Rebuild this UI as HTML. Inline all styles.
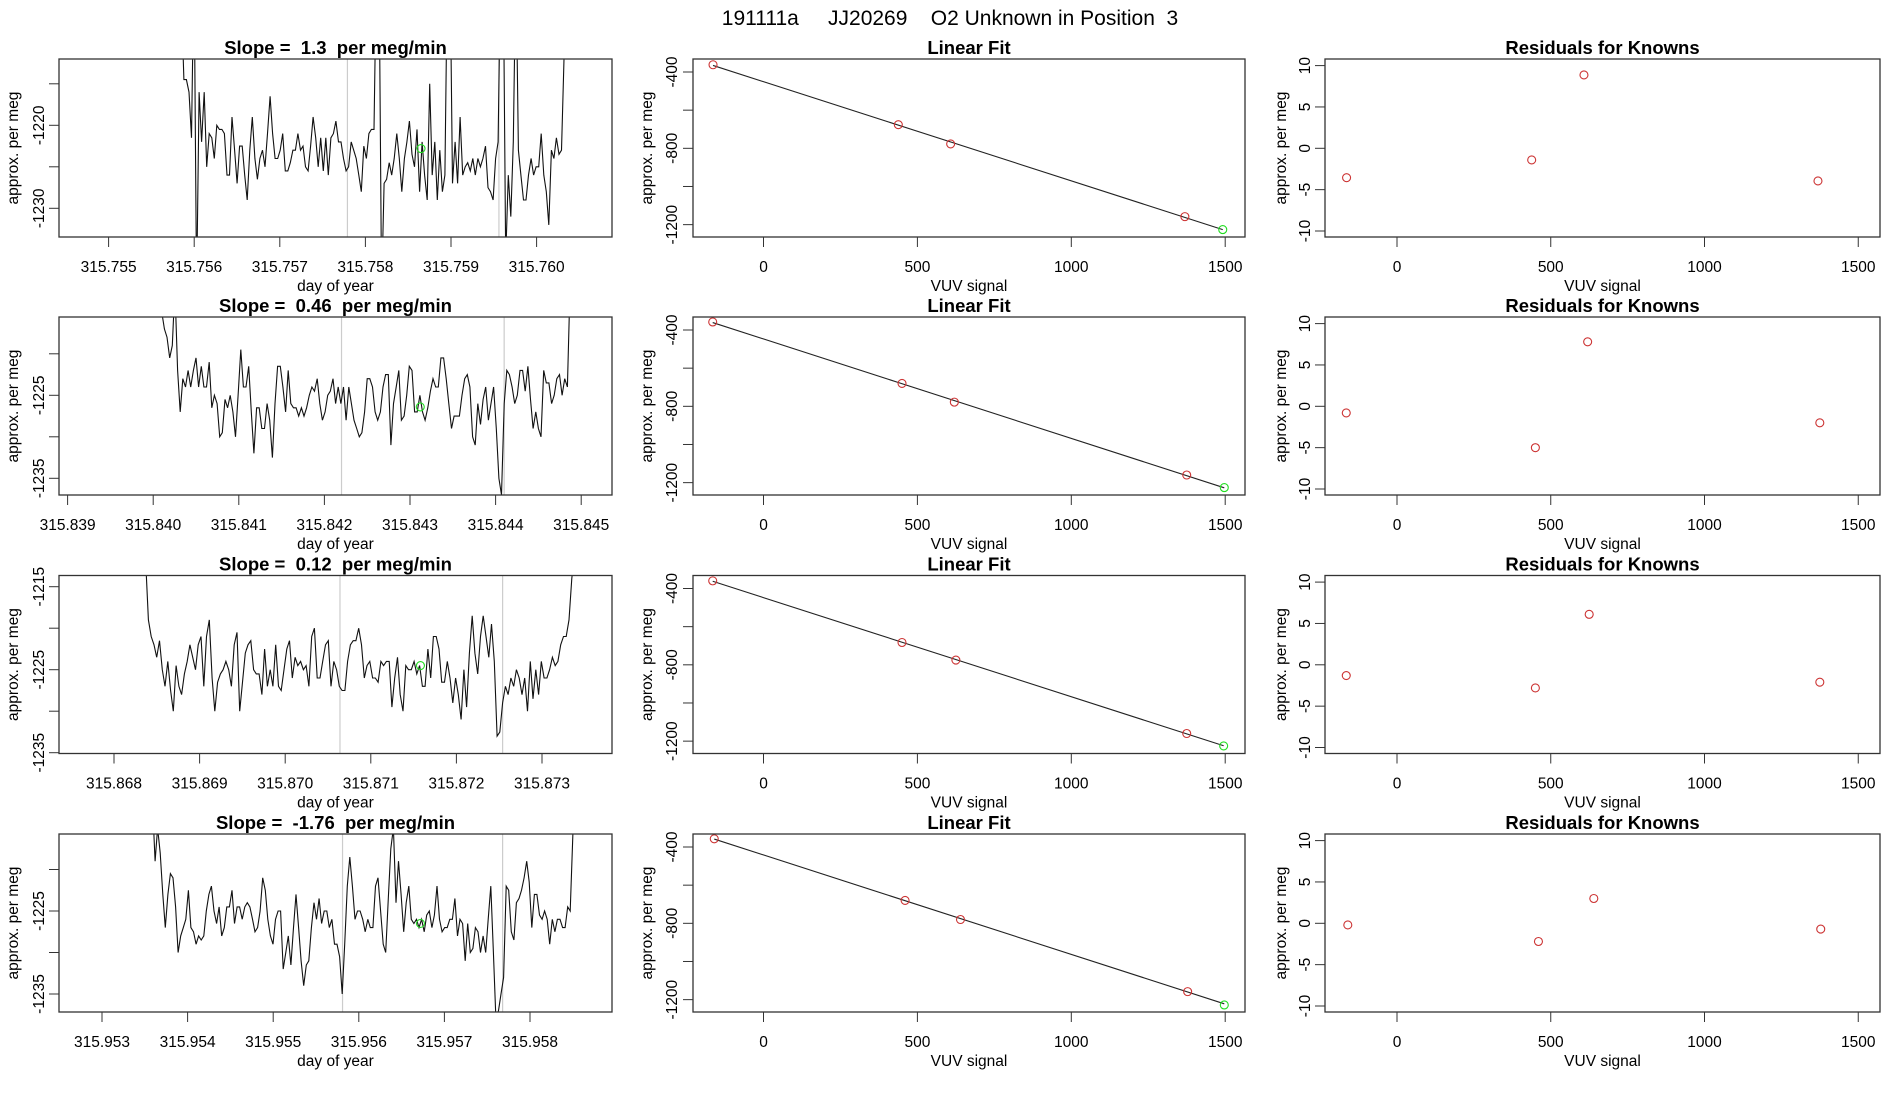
<!DOCTYPE html>
<html><head><meta charset="utf-8">
<style>
html,body{margin:0;padding:0;background:#fff;}
svg{display:block;font-family:"Liberation Sans",sans-serif;}
text{white-space:pre;}
</style></head>
<body>
<svg id="fig" width="1900" height="1100" viewBox="0 0 1900 1100" xmlns="http://www.w3.org/2000/svg">
<text x="950" y="25" text-anchor="middle" font-size="21">191111a     JJ20269    O2 Unknown in Position  3</text>
</svg>
<script>
// ---- time-series data (approx. per meg) ----
const slopes = ["1.3","0.46","0.12","-1.76"];
const tStart = [315.75585, 315.84010, 315.86837, 315.95359];
const tEnd   = [315.76035, 315.84490, 315.87338, 315.95853];
const tTickLabels = [
 ["315.755","315.756","315.757","315.758","315.759","315.760"],
 ["315.839","315.840","315.841","315.842","315.843","315.844","315.845"],
 ["315.868","315.869","315.870","315.871","315.872","315.873"],
 ["315.953","315.954","315.955","315.956","315.957","315.958"]];
const yTickVals = [[-1215,-1220,-1225,-1230],[-1220,-1225,-1230,-1235],[-1215,-1220,-1225,-1230,-1235],[-1220,-1225,-1230,-1235]];
const yTickLabeled = [[-1220,-1230],[-1225,-1235],[-1215,-1225,-1235],[-1225,-1235]];
const grayLines = [[315.75779,315.75956],[315.84220,315.84410],[315.87064,315.87254],[315.95581,315.95768]];
const unkT = [315.75865,315.84312,315.87158,315.95672];
const unkV = [-1222.8,-1226.4,-1224.5,-1226.5];
const series1 = [-1205,-1214.5,-1214.5,-1216,-1221.5,-1200,-1240,-1216,-1222,-1216,-1225,-1221,-1221.5,-1224,-1220,-1220.5,-1220.5,-1221,-1226,-1226,-1219,-1223,-1227,-1222.5,-1222.5,-1226,-1229,-1223,-1219,-1224,-1226.5,-1224,-1223,-1225,-1221,-1216.5,-1221,-1224,-1224,-1223,-1221,-1225.5,-1225.5,-1224.5,-1223,-1223,-1221,-1223,-1222.5,-1225,-1225.5,-1222.5,-1219,-1221.5,-1225,-1221.5,-1225.5,-1221.5,-1226,-1221.5,-1221,-1219.5,-1222,-1222,-1224,-1225.5,-1225,-1222,-1223,-1224,-1226,-1228,-1222.5,-1224,-1221,-1220.5,-1220.5,-1200,-1200,-1240,-1227,-1226.5,-1224.5,-1226,-1224,-1221,-1224,-1228,-1224,-1222,-1219.5,-1223.5,-1225,-1220.5,-1228,-1222,-1226,-1229,-1215,-1226,-1222,-1229,-1223,-1228,-1226,-1200,-1200,-1227,-1222,-1227,-1219,-1226,-1225,-1224.5,-1225.5,-1224,-1226,-1224,-1225,-1224,-1222.5,-1227.5,-1228,-1229,-1224,-1222,-1200,-1200,-1236,-1226,-1231,-1222,-1200,-1223,-1226,-1229,-1229,-1226,-1224,-1226,-1225,-1225,-1221,-1226,-1228,-1232,-1223,-1224,-1221.5,-1223.5,-1223,-1212,-1204];
const series2 = [-1215,-1217,-1218,-1220.5,-1219,-1212,-1222,-1227,-1223,-1224,-1222,-1224,-1222,-1220.5,-1224,-1221.5,-1224,-1224,-1221,-1226.5,-1225,-1226,-1230,-1229.5,-1225.5,-1226.5,-1225,-1227,-1230,-1225,-1219.5,-1224,-1224,-1221.5,-1227,-1232,-1226.5,-1226.5,-1229,-1229,-1226,-1228,-1232.5,-1226,-1221.5,-1221.5,-1224,-1227,-1222,-1226,-1226.5,-1226.5,-1227.5,-1226.5,-1227.5,-1226.5,-1225,-1224,-1224.5,-1223,-1226,-1228,-1227,-1225,-1224.5,-1223,-1226,-1224,-1226,-1224,-1228,-1224,-1226,-1228,-1229,-1230,-1229.5,-1227,-1223,-1223,-1224,-1227,-1228,-1227,-1224,-1222.5,-1222.5,-1231,-1226,-1224,-1222,-1228,-1227.5,-1225,-1221.5,-1222,-1227,-1227,-1225,-1227,-1228,-1226.5,-1224.5,-1223,-1224,-1224,-1220.5,-1220.5,-1223,-1226,-1229,-1227.5,-1227.5,-1227.5,-1225,-1223,-1222.5,-1224,-1230,-1231,-1226,-1228.5,-1225.5,-1224,-1228,-1226,-1224,-1229,-1235,-1237,-1226,-1222,-1222.5,-1224,-1226,-1225,-1222,-1222,-1224.5,-1221.5,-1225.5,-1229,-1227,-1229,-1230,-1222,-1223.5,-1223.5,-1226,-1225,-1223,-1222.5,-1225,-1223,-1224,-1212,-1205];
const series3 = [-1212,-1219,-1221,-1222,-1223.5,-1221.5,-1225,-1227,-1224,-1227.5,-1230,-1224.5,-1227,-1228,-1225.5,-1224,-1222,-1223.5,-1225,-1222,-1221,-1227,-1221,-1219,-1226,-1230,-1226.5,-1225.5,-1225,-1224,-1225,-1227,-1222,-1220.5,-1230,-1226.5,-1223,-1222,-1221.5,-1225,-1225.5,-1225.5,-1228,-1222.5,-1227,-1225,-1227,-1222,-1227,-1227.5,-1225,-1222.5,-1221.5,-1226,-1223.5,-1224.5,-1224,-1225,-1224.5,-1227,-1221,-1220,-1226,-1226,-1224,-1222,-1221.5,-1227,-1224,-1225,-1227,-1227.5,-1227.5,-1224,-1222,-1221.5,-1221.5,-1220,-1222,-1226,-1224.5,-1224,-1226,-1226,-1226.5,-1224,-1224.5,-1224,-1224,-1229.5,-1226,-1223.5,-1228,-1230,-1224.5,-1225,-1225,-1224,-1225.5,-1224.5,-1227,-1227,-1222.5,-1226,-1221,-1221,-1222.5,-1226.5,-1226.5,-1224,-1226,-1229,-1226,-1228,-1231,-1225,-1229.5,-1223,-1218.5,-1223,-1225.5,-1221,-1218.5,-1221,-1223.5,-1219.5,-1224,-1233,-1232.5,-1229,-1227,-1228,-1226,-1227,-1225,-1226,-1228,-1226,-1230,-1224,-1228.5,-1225,-1228,-1224,-1226,-1226,-1225,-1223.5,-1224.5,-1224,-1222,-1221,-1221,-1219,-1214,-1211];
const series4 = [-1212,-1219,-1215,-1218,-1223,-1227,-1223,-1220.5,-1221,-1224.5,-1230,-1228,-1227,-1226,-1222.5,-1227,-1227.5,-1229,-1228,-1228.5,-1228,-1225,-1223,-1222,-1225,-1226.5,-1224.5,-1228,-1227,-1224.5,-1224.5,-1222.5,-1226.5,-1224.5,-1224.5,-1226,-1224.5,-1224,-1224.5,-1226,-1227.5,-1227,-1225,-1221,-1222.5,-1226,-1228,-1229,-1226,-1225,-1225,-1232,-1230,-1228,-1231.5,-1227,-1223,-1227,-1231,-1234,-1231.5,-1231,-1227,-1224,-1226,-1223.5,-1226.5,-1225,-1225,-1227,-1226,-1229,-1229,-1230.5,-1235,-1229,-1222,-1218.5,-1222,-1226,-1225,-1225,-1226,-1227.5,-1226,-1227,-1227,-1222,-1221,-1225,-1229,-1230,-1223.5,-1217.5,-1215,-1224,-1219,-1223,-1227.5,-1224,-1222,-1226,-1226.5,-1226,-1227,-1226,-1227.5,-1225.5,-1225,-1227,-1225.5,-1222,-1226,-1227.5,-1227,-1227,-1226,-1226,-1223.5,-1228,-1226,-1226.5,-1231,-1226.5,-1230,-1229.5,-1227,-1227.5,-1230,-1228,-1230,-1226,-1222,-1230,-1238,-1237,-1235,-1233,-1222,-1222.5,-1227.5,-1228.5,-1224,-1223.5,-1222.5,-1221,-1219,-1221.5,-1227,-1223,-1223,-1225.5,-1226,-1225,-1226,-1229,-1226,-1227.5,-1226,-1226,-1227,-1227,-1224.5,-1225,-1216,-1207];
const allSeries = [series1,series2,series3,series4];

// ---- linear-fit data ----
const knownX = [[-164,438,608,1369],[-165,450,620,1375],[-165,450,625,1375],[-160,460,640,1378]];
const knownY = [[-362,-676,-777,-1158],[-358,-680,-778,-1160],[-360,-683,-775,-1160],[-357,-680,-780,-1158]];
const unkX = [1492,1497,1495,1497];
const unkY = [-1226,-1226,-1225,-1228];
const resid = [[-3.55,-1.41,8.87,-3.95],[-0.8,-5.0,7.8,-2.0],[-1.3,-2.8,6.1,-2.1],[-0.2,-2.2,3.0,-0.7]];
const fitXTicks = [0,500,1000,1500];
const fitYTicks = [-400,-600,-800,-1000,-1200];
const fitYLabeled = [-400,-800,-1200];
const resYTicks = [-10,-5,0,5,10];

const NS="http://www.w3.org/2000/svg";
const svg=document.getElementById('fig');
function mk(tag,attrs,parent){const e=document.createElementNS(NS,tag);for(const k in attrs)e.setAttribute(k,attrs[k]);(parent||svg).appendChild(e);return e;}
function txt(s,attrs,parent){const e=mk('text',attrs,parent);e.textContent=s;return e;}

const rowTop=[59,317,575.5,834], H=178;
const cols=[{l:59,r:612},{l:693,r:1245},{l:1325,r:1880}];
const tRef=[[315.755,108.6],[315.839,67.6],[315.868,114],[315.953,102]];
const yRef=[[-1220,125.3-59],[-1225,395.3-317],[-1215,586.7-575.5],[-1225,911-834]];
const pxPerDay=85.6e3, pxPerUnit=8.3;

for(let r=0;r<4;r++){
 const top=rowTop[r], bot=top+H;
 const c=cols[0];
 const g=mk('g',{});
 
 
 const xs=t=>tRef[r][1]+(t-tRef[r][0])*pxPerDay;
 const ys=v=>top+yRef[r][1]-(v-yRef[r][0])*pxPerUnit;
 const cp=mk('clipPath',{id:'clip'+r},g);
 mk('rect',{x:c.l,y:top,width:c.r-c.l,height:H},cp);
 grayLines[r].forEach(t=>{const l=mk('line',{x1:xs(t),x2:xs(t),y1:top,y2:bot,stroke:'#cccccc','stroke-width':1.2},g);
  
  });
 const s=allSeries[r], n=s.length;
 let d='';
 s.forEach((v,i)=>{const t=tStart[r]+(tEnd[r]-tStart[r])*i/(n-1);d+=(i?'L':'M')+xs(t).toFixed(1)+','+ys(v).toFixed(1);});
 const p=mk('path',{d:d,fill:'none',stroke:'#111','stroke-width':1.1,'clip-path':'url(#clip'+r+')'},g);
 
 
 const uc=mk('circle',{cx:xs(unkT[r]),cy:ys(unkV[r]),r:4,fill:'none',stroke:'#22dd22','stroke-width':1.1},g);
 
 
 const b=mk('rect',{x:c.l,y:top,width:c.r-c.l,height:H,fill:'none',stroke:'#333','stroke-width':1.3},g);
 
 
 tTickLabels[r].forEach(lbl=>{const x=xs(parseFloat(lbl));mk('line',{x1:x,x2:x,y1:bot,y2:bot+10,stroke:'#333'},g);
  const tl=txt(lbl,{x:x,y:bot+35,'text-anchor':'middle','font-size':15.5},g);
  
  });
 yTickVals[r].forEach(v=>{const y=ys(v);mk('line',{x1:c.l,x2:c.l-10,y1:y,y2:y,stroke:'#333'},g);});
 yTickLabeled[r].forEach(v=>{const y=ys(v);const tl=txt(String(v),{x:0,y:0,'text-anchor':'middle','font-size':15.5,transform:`translate(44,${y}) rotate(-90)`},g);
  
  });
 let e=txt(`Slope =  ${slopes[r]}  per meg/min`,{x:(c.l+c.r)/2,y:top-5,'text-anchor':'middle','font-size':18.5,'font-weight':'bold'},g);
 
 
 e=txt('day of year',{x:(c.l+c.r)/2,y:bot+54,'text-anchor':'middle','font-size':15.5},g);
 
 
 e=txt('approx. per meg',{x:0,y:0,'text-anchor':'middle','font-size':15.5,transform:`translate(18,${top+H/2}) rotate(-90)`},g);
 
 

 const c2=cols[1];
 const g2=mk('g',{});
 
 
 const fx=v=>763.5+v*0.3078;
 const fy=v=>top+13+(-400-v)*0.1908;
 const kx=knownX[r], ky=knownY[r];
 const mx=kx.reduce((a,b)=>a+b)/4, my=ky.reduce((a,b)=>a+b)/4;
 let sxy=0,sxx=0;kx.forEach((x,i)=>{sxy+=(x-mx)*(ky[i]-my);sxx+=(x-mx)*(x-mx);});
 const sl=sxy/sxx, ic=my-sl*mx;
 const x0=Math.min(...kx), x1=unkX[r];
 const fl=mk('line',{x1:fx(x0),y1:fy(ic+sl*x0),x2:fx(x1),y2:fy(ic+sl*x1),stroke:'#222','stroke-width':1.1},g2);
 
 
 kx.forEach((x,i)=>{const pt=mk('circle',{cx:fx(x),cy:fy(ky[i]),r:4,fill:'none',stroke:'#cc3333','stroke-width':1.1},g2);
  
  });
 const ug=mk('circle',{cx:fx(unkX[r]),cy:fy(unkY[r]),r:4,fill:'none',stroke:'#22dd22','stroke-width':1.1},g2);
 
 
 mk('rect',{x:c2.l,y:top,width:c2.r-c2.l,height:H,fill:'none',stroke:'#333','stroke-width':1.3},g2);
 fitXTicks.forEach(v=>{const x=fx(v);mk('line',{x1:x,x2:x,y1:bot,y2:bot+10,stroke:'#333'},g2);
  const tl=txt(String(v),{x:x,y:bot+35,'text-anchor':'middle','font-size':15.5},g2);
  
  });
 fitYTicks.forEach(v=>{const y=fy(v);mk('line',{x1:c2.l,x2:c2.l-10,y1:y,y2:y,stroke:'#333'},g2);});
 fitYLabeled.forEach(v=>{const tl=txt(String(v),{x:0,y:0,'text-anchor':'middle','font-size':15.5,transform:`translate(677,${fy(v)}) rotate(-90)`},g2);
  
  });
 e=txt('Linear Fit',{x:(c2.l+c2.r)/2,y:top-5,'text-anchor':'middle','font-size':18.5,'font-weight':'bold'},g2);
 
 
 e=txt('VUV signal',{x:(c2.l+c2.r)/2,y:bot+54,'text-anchor':'middle','font-size':15.5},g2);
 
 
 e=txt('approx. per meg',{x:0,y:0,'text-anchor':'middle','font-size':15.5,transform:`translate(652,${top+H/2}) rotate(-90)`},g2);
 
 

 const c3=cols[2];
 const g3=mk('g',{});
 
 
 const rx=v=>1397+v*0.3075;
 const ry=v=>top+6.6+(10-v)*8.27;
 kx.forEach((x,i)=>{const pt=mk('circle',{cx:rx(x),cy:ry(resid[r][i]),r:4,fill:'none',stroke:'#cc3333','stroke-width':1.1},g3);
  
  });
 mk('rect',{x:c3.l,y:top,width:c3.r-c3.l,height:H,fill:'none',stroke:'#333','stroke-width':1.3},g3);
 fitXTicks.forEach(v=>{const x=rx(v);mk('line',{x1:x,x2:x,y1:bot,y2:bot+10,stroke:'#333'},g3);
  const tl=txt(String(v),{x:x,y:bot+35,'text-anchor':'middle','font-size':15.5},g3);
  
  });
 resYTicks.forEach(v=>{const y=ry(v);mk('line',{x1:c3.l,x2:c3.l-10,y1:y,y2:y,stroke:'#333'},g3);
  const tl=txt(String(v),{x:0,y:0,'text-anchor':'middle','font-size':15.5,transform:`translate(1310,${y}) rotate(-90)`},g3);
  
  });
 e=txt('Residuals for Knowns',{x:(c3.l+c3.r)/2,y:top-5,'text-anchor':'middle','font-size':18.5,'font-weight':'bold'},g3);
 
 
 e=txt('VUV signal',{x:(c3.l+c3.r)/2,y:bot+54,'text-anchor':'middle','font-size':15.5},g3);
 
 
 e=txt('approx. per meg',{x:0,y:0,'text-anchor':'middle','font-size':15.5,transform:`translate(1286,${top+H/2}) rotate(-90)`},g3);
 
 
}
</script>
</body></html>
